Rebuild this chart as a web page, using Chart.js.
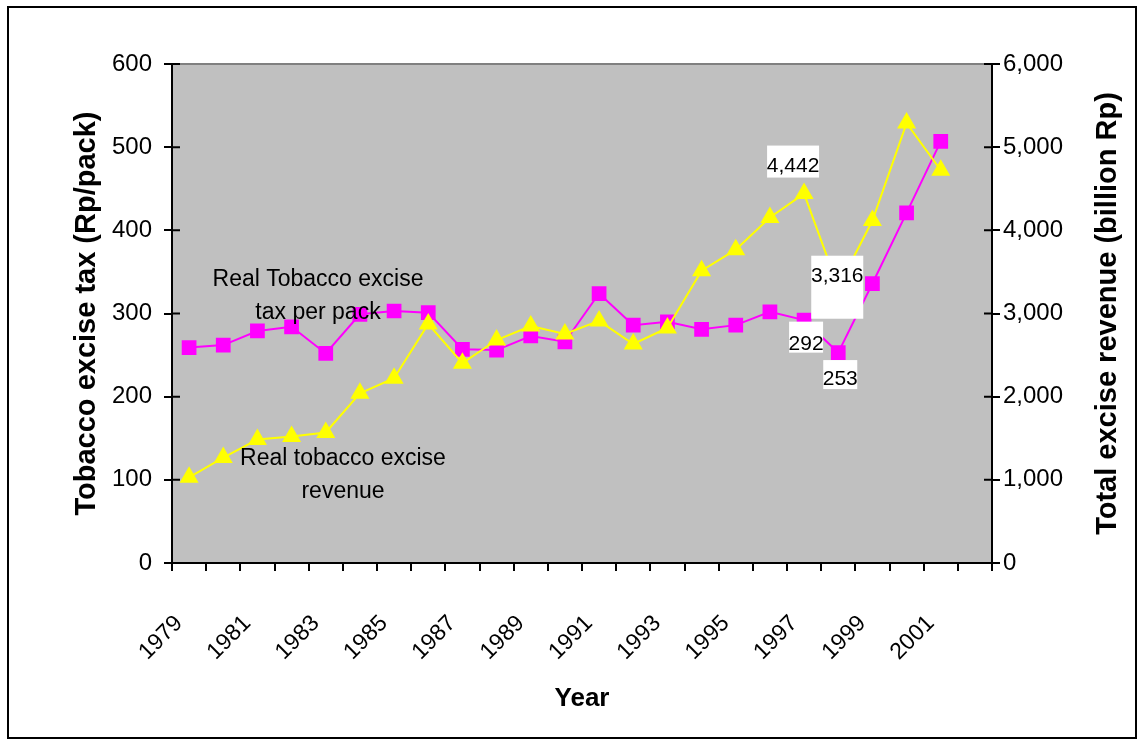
<!DOCTYPE html>
<html>
<head>
<meta charset="utf-8">
<script src="https://cdn.jsdelivr.net/npm/chart.js@4.4.1/dist/chart.umd.min.js"></script>
<style>
  html, body { margin: 0; padding: 0; background: #fff; }
</style>
</head>
<body>
<canvas id="taxChart" width="1141" height="740"></canvas>
<script>
const years = ['1979', '1980', '1981', '1982', '1983', '1984', '1985', '1986', '1987', '1988', '1989', '1990',
  '1991', '1992', '1993', '1994', '1995', '1996', '1997', '1998', '1999', '2000', '2001', '2002'];
const shownYears = ['1979', '1981', '1983', '1985', '1987', '1989', '1991', '1993', '1995', '1997', '1999', '2001'];

// Rp per pack (left axis)
const taxPerPack = [259, 262, 279, 284, 252, 299, 303, 301, 257, 256, 273, 266,
  324, 286, 290, 281, 286, 302, 292, 253, 336, 421, 507, null];
// billion Rp (right axis)
const revenue = [1030, 1268, 1485, 1522, 1570, 2041, 2222, 2874, 2403, 2681, 2850, 2754,
  2911, 2633, 2826, 3514, 3768, 4155, 4442, 3316, 4118, 5290, 4722, null];

const taxTicks = [0, 100, 200, 300, 400, 500, 600];
const revenueTicks = [0, 1000, 2000, 3000, 4000, 5000, 6000];

const FONT = "'Liberation Sans', Arial, sans-serif";
Chart.defaults.font.family = FONT;
Chart.defaults.color = '#000';

// which points get a value label, and where the white box goes
const labelSpots = [
  { ds: 0, i: 18, bx: -11, by: -32, bw: 52, bh: 32, ty: -27 },
  { ds: 0, i: 19, bx: -1, by: 0, bw: 52, bh: 63, ty: -11 },
  { ds: 1, i: 18, bx: 2, by: 17, bw: 34, bh: 31, ty: 24 },
  { ds: 1, i: 19, bx: 2, by: 22, bw: 34, bh: 29, ty: 27 },
];

const frame = {
  id: 'frame',
  beforeDraw(chart) {
    const { ctx, chartArea: a } = chart;
    ctx.save();
    ctx.fillStyle = '#fff';
    ctx.fillRect(0, 0, chart.width, chart.height);
    ctx.fillStyle = '#c0c0c0';
    ctx.fillRect(a.left, a.top, a.right - a.left, a.bottom - a.top);
    ctx.strokeStyle = '#000';
    ctx.lineWidth = 2;
    ctx.strokeRect(8, 7, 1128, 731);
    ctx.restore();
  },
  afterDraw(chart) {
    const { ctx, chartArea: a, scales } = chart;
    ctx.save();
    ctx.strokeStyle = '#808080';
    ctx.lineWidth = 2;
    ctx.beginPath();
    ctx.moveTo(a.left, a.top);
    ctx.lineTo(a.right, a.top);
    ctx.stroke();
    // inner half of the y tick marks
    ctx.strokeStyle = '#000';
    ctx.beginPath();
    taxTicks.forEach(v => {
      const y = scales.yL.getPixelForValue(v);
      ctx.moveTo(a.left, y);
      ctx.lineTo(a.left + 8, y);
    });
    revenueTicks.forEach(v => {
      const y = scales.yR.getPixelForValue(v);
      ctx.moveTo(a.right - 8, y);
      ctx.lineTo(a.right, y);
    });
    ctx.stroke();
    // right title reads bottom to top like the left one
    ctx.translate(1108, (a.top + a.bottom) / 2);
    ctx.rotate(-Math.PI / 2);
    ctx.font = 'bold 29px ' + FONT;
    ctx.fillStyle = '#000';
    ctx.textAlign = 'center';
    ctx.textBaseline = 'middle';
    ctx.fillText('Total excise revenue (billion Rp)', 0, 0);
    ctx.restore();
  },
};

const valueLabels = {
  id: 'valueLabels',
  afterDatasetsDraw(chart) {
    const { ctx } = chart;
    ctx.save();
    labelSpots.forEach(s => {
      const pt = chart.getDatasetMeta(s.ds).data[s.i];
      const val = chart.data.datasets[s.ds].data[s.i];
      ctx.fillStyle = '#fff';
      ctx.fillRect(pt.x + s.bx - s.bw / 2, pt.y + s.by - s.bh / 2, s.bw, s.bh);
      ctx.fillStyle = '#000';
      ctx.font = '21px ' + FONT;
      ctx.textAlign = 'center';
      ctx.textBaseline = 'middle';
      ctx.fillText(val.toLocaleString('en-US'), pt.x + s.bx, pt.y + s.ty);
    });
    // series names written on the plot
    ctx.font = '23px ' + FONT;
    ctx.textAlign = 'center';
    ctx.textBaseline = 'alphabetic';
    ctx.fillText('Real Tobacco excise', 318, 286);
    ctx.fillText('tax per pack', 318, 319);
    ctx.fillText('Real tobacco excise', 343, 465);
    ctx.fillText('revenue', 343, 498);
    ctx.restore();
  },
};

new Chart(document.getElementById('taxChart'), {
  type: 'line',
  data: {
    labels: years,
    datasets: [
      {
        label: 'Real tobacco excise revenue',
        data: revenue,
        yAxisID: 'yR',
        borderColor: '#ffff00',
        backgroundColor: '#ffff00',
        borderWidth: 2,
        pointStyle: 'triangle',
        pointRadius: 9,
        order: 0,
      },
      {
        label: 'Real Tobacco excise tax per pack',
        data: taxPerPack,
        yAxisID: 'yL',
        borderColor: '#ff00ff',
        backgroundColor: '#ff00ff',
        borderWidth: 2,
        pointStyle: 'rect',
        pointRadius: 9,
        order: 1,
      },
    ],
  },
  options: {
    responsive: false,
    animation: false,
    layout: { padding: { left: 66, top: 64, bottom: 22, right: 0 } },
    plugins: { legend: { display: false }, tooltip: { enabled: false } },
    scales: {
      x: {
        offset: true,
        grid: { offset: true, drawOnChartArea: false, tickLength: 8, color: '#000', lineWidth: 2 },
        border: { color: '#000', width: 2 },
        ticks: {
          autoSkip: false,
          minRotation: 45,
          maxRotation: 45,
          padding: 39,
          labelOffset: -10,
          font: { size: 23 },
          callback(v, i) {
            return shownYears.includes(years[i]) ? years[i] : '';
          },
        },
        title: { display: true, text: 'Year', font: { size: 26, weight: 'bold' } },
        afterFit(s) { s.height = 155; },
      },
      yL: {
        position: 'left',
        min: 0,
        max: 600,
        grid: { drawOnChartArea: false, tickLength: 8, color: '#000', lineWidth: 2 },
        border: { color: '#000', width: 2 },
        ticks: { stepSize: 100, padding: 12, font: { size: 24 } },
        title: { display: true, text: 'Tobacco excise tax (Rp/pack)', font: { size: 29, weight: 'bold' } },
        afterFit(s) { s.width = 106; },
      },
      yR: {
        position: 'right',
        min: 0,
        max: 6000,
        grid: { drawOnChartArea: false, tickLength: 8, color: '#000', lineWidth: 2 },
        border: { color: '#000', width: 2 },
        ticks: { stepSize: 1000, padding: 3, font: { size: 24 } },
        afterFit(s) { s.width = 149; },
      },
    },
  },
  plugins: [frame, valueLabels],
});
</script>
</body>
</html>
